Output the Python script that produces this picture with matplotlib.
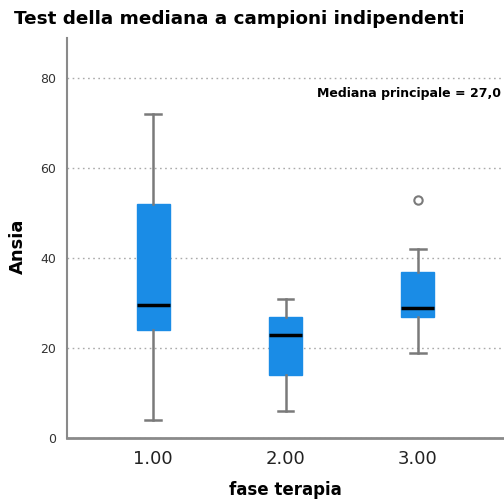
import matplotlib
matplotlib.use("Agg")
import matplotlib.pyplot as plt

# values
fasi = ["1.00", "2.00", "3.00"]
whisk_lo = [4, 6, 19]
q1 = [24, 14, 27]
mediane = [29.5, 23, 29]
q3 = [52, 27, 37]
whisk_hi = [72, 31, 42]
outliers = [[], [], [53]]
mediana_principale = "27,0"

stats = []
for i in range(len(fasi)):
    stats.append(dict(label=fasi[i], whislo=whisk_lo[i], q1=q1[i], med=mediane[i],
                      q3=q3[i], whishi=whisk_hi[i], fliers=outliers[i]))

fig = plt.figure(figsize=(5.04, 5.03), dpi=100)
ax = fig.add_axes([67 / 504, (503 - 438) / 503, (504 - 67) / 504, (438 - 38) / 503])

blu = "#1a8ce6"
grigio = "#7a7a7a"
ax.bxp(stats, positions=[1, 2, 3], widths=0.25, patch_artist=True,
       boxprops=dict(facecolor=blu, edgecolor=blu, linewidth=1),
       medianprops=dict(color="black", linewidth=2.5),
       whiskerprops=dict(color=grigio, linewidth=1.8),
       capprops=dict(color=grigio, linewidth=1.8),
       capwidths=0.12,
       flierprops=dict(marker="o", markerfacecolor="white", markeredgecolor=grigio,
                       markersize=6, markeredgewidth=1.5),
       zorder=3)

ax.set_xlim(0.35, 3.65)
ax.set_ylim(0, 89)
ax.set_yticks([0, 20, 40, 60, 80])
ax.yaxis.grid(True, linestyle=(0, (1.2, 2.5)), color="#aaaaaa", linewidth=1)
ax.set_axisbelow(True)

for s in ["top", "right"]:
    ax.spines[s].set_visible(False)
ax.spines["left"].set_color("#8a8a8a")
ax.spines["left"].set_linewidth(1.5)
ax.spines["bottom"].set_color("#8a8a8a")
ax.spines["bottom"].set_linewidth(2)

ax.tick_params(axis="y", length=0, labelsize=9, pad=8, labelcolor="#333333")
ax.tick_params(axis="x", length=0, labelsize=13, pad=9, labelcolor="#222222")

ax.set_ylabel("Ansia", fontsize=13, fontweight="bold")
ax.yaxis.set_label_coords(-(67 - 18) / 437, 0.48, transform=ax.transAxes)
ax.yaxis.label.set_va("center")
ax.set_xlabel("fase terapia", fontsize=12, fontweight="bold")
ax.xaxis.set_label_coords(0.5, -(490 - 438) / 400, transform=ax.transAxes)
ax.xaxis.label.set_va("center")

ax.text(0.992, 0.862, "Mediana principale = " + mediana_principale,
        transform=ax.transAxes, ha="right", va="center", fontsize=9, fontweight="bold")

fig.text(14 / 504, 1 - 19 / 503, "Test della mediana a campioni indipendenti",
         ha="left", va="center", fontsize=13.2, fontweight="bold")

fig.savefig("out.png", dpi=100)
